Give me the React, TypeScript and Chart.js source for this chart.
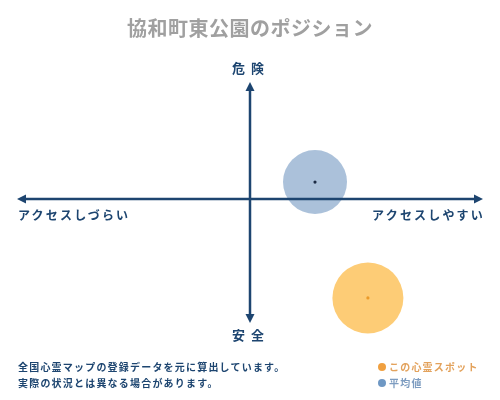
import React from "react"
import { Chart, registerables } from "chart.js"

Chart.register(...registerables)

const title = "協和町東公園のポジション"
const axisTop = "危険"
const axisBottom = "安全"
const axisLeft = "アクセスしづらい"
const axisRight = "アクセスしやすい"
const notes = ["全国心霊マップの登録データを元に算出しています。", "実際の状況とは異なる場合があります。"]

const seriesNames = ["この心霊スポット", "平均値"]
const accessValues = [5.06, 2.79]
const dangerValues = [-8.46, 1.45]
const bubbleSizes = [35.5, 32]

const fills = ["rgba(253, 190, 80, 0.78)", "rgba(120, 155, 195, 0.62)"]
const dots = ["#eb9a2a", "#1b2a44"]
const legendDots = ["#f0a040", "#6f98c4"]
const legendText = ["#e3a25c", "#7d9cc0"]
const NAVY = "#1d4570"

const axesPlugin = {
  id: "crossAxes",
  afterDatasetsDraw(chart: any) {
    const { ctx, chartArea, scales } = chart
    const cx = scales.x.getPixelForValue(0)
    const cy = scales.y.getPixelForValue(0)
    ctx.save()
    ctx.strokeStyle = NAVY
    ctx.fillStyle = NAVY
    ctx.lineWidth = 2.5
    ctx.beginPath()
    ctx.moveTo(chartArea.left + 4, cy)
    ctx.lineTo(chartArea.right - 4, cy)
    ctx.moveTo(cx, chartArea.top + 4)
    ctx.lineTo(cx, chartArea.bottom - 4)
    ctx.stroke()
    const head = (x: number, y: number, dx: number, dy: number) => {
      const px = -dy
      const py = dx
      ctx.beginPath()
      ctx.moveTo(x, y)
      ctx.lineTo(x - dx * 9 + px * 4.5, y - dy * 9 + py * 4.5)
      ctx.lineTo(x - dx * 9 - px * 4.5, y - dy * 9 - py * 4.5)
      ctx.closePath()
      ctx.fill()
    }
    head(chartArea.left, cy, -1, 0)
    head(chartArea.right, cy, 1, 0)
    head(cx, chartArea.top, 0, -1)
    head(cx, chartArea.bottom, 0, 1)
    ctx.restore()
  },
}

const PositionChart = () => {
  const chartRef = React.useRef<HTMLCanvasElement>(null)

  React.useEffect(() => {
    if (chartRef.current == null) {
      return
    }
    document.body.style.margin = "0"

    const chart = new Chart(chartRef.current, {
      type: "bubble",
      data: {
        datasets: [
          {
            label: "dots",
            type: "scatter",
            data: accessValues.map((x, i) => ({ x, y: dangerValues[i] })),
            pointRadius: 1.6,
            pointBackgroundColor: dots,
            pointBorderWidth: 0,
            clip: false,
          } as any,
          ...seriesNames.map((name, i) => ({
            label: name,
            data: [{ x: accessValues[i], y: dangerValues[i], r: bubbleSizes[i] }],
            backgroundColor: fills[i],
            borderWidth: 0,
            clip: false,
          })),
        ],
      },
      options: {
        animation: false,
        responsive: false,
        layout: { autoPadding: false, padding: { left: 17, right: 17, top: 82, bottom: 77 } },
        plugins: {
          legend: { display: false },
          tooltip: { enabled: false },
          title: { display: false },
        },
        scales: {
          x: { type: "linear", display: false, min: -10, max: 10 },
          y: { type: "linear", display: false, min: -10.6, max: 10 },
        },
      },
      plugins: [axesPlugin],
    })

    return () => {
      chart.destroy()
    }
  }, [])

  const font = "'Noto Sans CJK JP', sans-serif"
  const abs = (style: React.CSSProperties): React.CSSProperties => ({
    position: "absolute",
    fontFamily: font,
    whiteSpace: "nowrap",
    lineHeight: 1,
    ...style,
  })

  return (
    <div style={{ position: "relative", width: 500, height: 400, background: "#fff" }}>
      <canvas ref={chartRef} width={500} height={400} style={{ position: "absolute", left: 0, top: 0 }} />
      <div style={abs({ left: 0, width: 500, top: 18, textAlign: "center", fontSize: 20, color: "#a0a0a0", fontWeight: 700, letterSpacing: 0.5 })}>
        {title}
      </div>
      <div style={abs({ left: 0, width: 502, top: 61, textAlign: "center", fontSize: 13, color: NAVY, fontWeight: 700, letterSpacing: 6 })}>
        {axisTop}
      </div>
      <div style={abs({ left: 0, width: 502, top: 328, textAlign: "center", fontSize: 13, color: NAVY, fontWeight: 700, letterSpacing: 6 })}>
        {axisBottom}
      </div>
      <div style={abs({ left: 18, top: 209, fontSize: 12, color: NAVY, fontWeight: 700, letterSpacing: 2.2 })}>{axisLeft}</div>
      <div style={abs({ right: 15, top: 209, fontSize: 12, color: NAVY, fontWeight: 700, letterSpacing: 2.2 })}>{axisRight}</div>
      {notes.map((t, i) => (
        <div key={t} style={abs({ left: 18, top: 362 + i * 16, fontSize: 10, color: NAVY, fontWeight: 700, letterSpacing: 1.2 })}>
          {t}
        </div>
      ))}
      {seriesNames.map((name, i) => (
        <div key={name} style={abs({ left: 378, top: 362 + i * 16, fontSize: 10, color: legendText[i], fontWeight: 700, letterSpacing: 1.2, display: "flex", alignItems: "center" })}>
          <span style={{ display: "inline-block", width: 8, height: 8, borderRadius: 4, background: legendDots[i], marginRight: 3 }} />
          {name}
        </div>
      ))}
    </div>
  )
}

export default function App() {
  return <PositionChart />
}
